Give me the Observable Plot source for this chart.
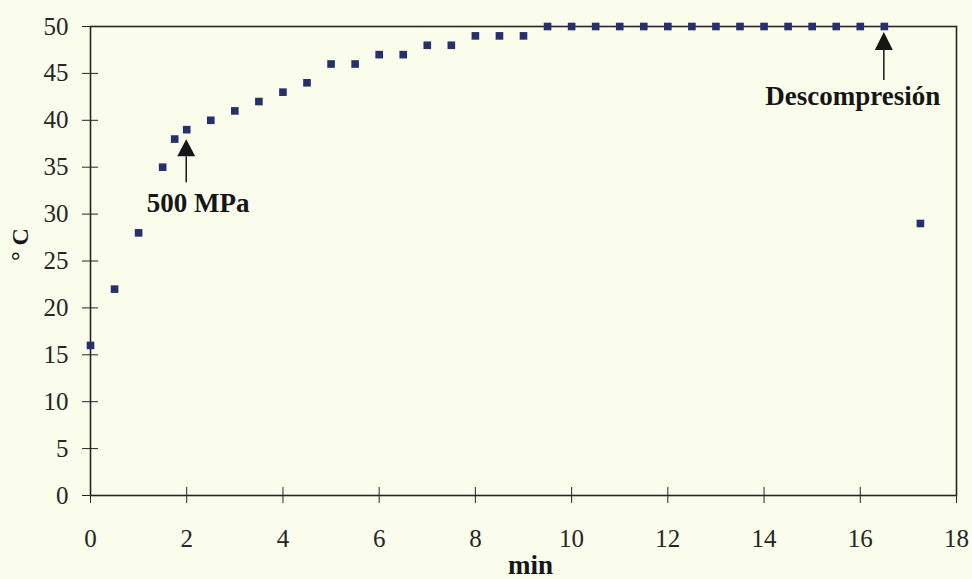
<!DOCTYPE html>
<html>
<head>
<meta charset="utf-8">
<script src="https://cdn.jsdelivr.net/npm/d3@7"></script>
<script src="https://cdn.jsdelivr.net/npm/@observablehq/plot@0.6"></script>
<style>
  html, body { margin: 0; padding: 0; background: #fafcec; }
  #chart svg { display: block; }
</style>
</head>
<body>
<div id="chart"></div>
<script>
// Temperature of the sample during the high-pressure treatment
const minutes = [0, 0.5, 1, 1.5, 1.75, 2, 2.5, 3, 3.5, 4, 4.5, 5, 5.5, 6, 6.5, 7, 7.5, 8, 8.5, 9,
                 9.5, 10, 10.5, 11, 11.5, 12, 12.5, 13, 13.5, 14, 14.5, 15, 15.5, 16, 16.5, 17.25];
const temperatures = [16, 22, 28, 35, 38, 39, 40, 41, 42, 43, 44, 46, 46, 47, 47, 48, 48, 49, 49, 49,
                      50, 50, 50, 50, 50, 50, 50, 50, 50, 50, 50, 50, 50, 50, 50, 29];

const xTicks = [0, 2, 4, 6, 8, 10, 12, 14, 16, 18];
const yTicks = [0, 5, 10, 15, 20, 25, 30, 35, 40, 45, 50];

// Events marked on the curve
const eventLabels = ["500 MPa", "Descompresión"];
const eventMinutes = [2, 16.5];

const readings = minutes.map((m, i) => ({minute: m, temperature: temperatures[i]}));
const events = eventLabels.map((label, i) => ({
  label,
  minute: eventMinutes[i],
  temperature: temperatures[minutes.indexOf(eventMinutes[i])]
}));

const ink = "#161616";
const axisInk = "#262626";
const serif = "'Liberation Serif', 'Times New Roman', serif";

// Arrow under a point with a bold label below it (pixel offsets per event)
const arrowStyle = [
  {tip: 10, base: 27, tail: 53, textDx: 12, textDy: 83},
  {tip: 6, base: 24, tail: 54, textDx: -31, textDy: 79}
];

function eventArrows(index, scales) {
  const g = d3.create("svg:g");
  events.forEach((e, i) => {
    const s = arrowStyle[i];
    const px = scales.x(e.minute);
    const py = scales.y(e.temperature);
    const half = 9;
    g.append("line")
      .attr("x1", px).attr("x2", px)
      .attr("y1", py + s.base).attr("y2", py + s.tail)
      .attr("stroke", ink).attr("stroke-width", 1.5);
    g.append("path")
      .attr("d", `M${px},${py + s.tip}L${px - half},${py + s.base}L${px + half},${py + s.base}Z`)
      .attr("fill", ink);
    g.append("text")
      .attr("x", px + s.textDx).attr("y", py + s.textDy)
      .attr("text-anchor", "middle")
      .attr("font-family", serif)
      .attr("font-weight", "bold")
      .attr("font-size", 27)
      .attr("fill", ink)
      .text(e.label);
  });
  return g.node();
}

const chart = Plot.plot({
  width: 972,
  height: 579,
  marginLeft: 90,
  marginRight: 16,
  marginTop: 26,
  marginBottom: 84,
  style: {background: "transparent", fontFamily: serif, color: ink, overflow: "visible"},
  x: {domain: [0, 18], label: null},
  y: {domain: [0, 50], label: null},
  marks: [
    Plot.frame({stroke: axisInk, strokeWidth: 1.6}),
    Plot.axisY({ticks: yTicks, tickSize: 8, tickPadding: 14, fontSize: 25, color: axisInk, label: null}),
    Plot.axisY({ticks: yTicks, tickSize: 8, dx: 8, tickFormat: () => "", color: axisInk, label: null}),
    Plot.axisX({ticks: xTicks, tickSize: 8, tickPadding: 26, fontSize: 25, color: axisInk, label: null}),
    Plot.axisX({ticks: xTicks, tickSize: 8, dy: -8, tickFormat: () => "", color: axisInk, label: null}),
    Plot.dot(readings, {x: "minute", y: "temperature", symbol: "square", r: 4.3, fill: "#26306b", stroke: null}),
    eventArrows,
    Plot.text(["° C"], {frameAnchor: "left", dx: -70, rotate: -90, fontWeight: "bold", fontSize: 24, fill: ink}),
    Plot.text(["min"], {frameAnchor: "bottom", dx: 7, dy: 78, lineAnchor: "bottom", fontWeight: "bold", fontSize: 27, fill: ink})
  ]
});

document.getElementById("chart").append(chart);
</script>
</body>
</html>
